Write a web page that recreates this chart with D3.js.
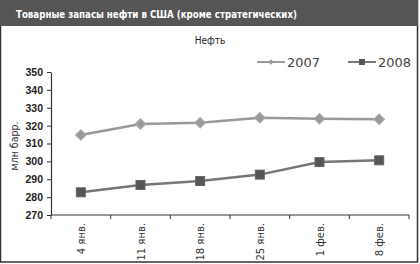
<!DOCTYPE html>
<html><head><meta charset="utf-8">
<script src="https://cdn.jsdelivr.net/npm/d3@7"></script>
<style>body{margin:0;background:#fff}svg{display:block}</style>
</head><body>
<script>
const categories = ["4 янв.","11 янв.","18 янв.","25 янв.","1 фев.","8 фев."];
const series2007 = [314.8, 320.9, 321.6, 324.4, 323.8, 323.5];
const series2008 = [282.7, 286.8, 289.0, 292.6, 299.6, 300.6];
const yTicks = [270,280,290,300,310,320,330,340,350];
const title = "Товарные запасы нефти в США (кроме стратегических)";
const subtitle = "Нефть";
const yLabel = "млн барр.";

const W=420,H=264;
const svg=d3.select("body").append("svg").attr("width",W).attr("height",H);
svg.append("rect").attr("x",0.5).attr("y",0.5).attr("width",W-3).attr("height",H-2.5).attr("fill","#fff").attr("stroke","#333").attr("stroke-width",1.5);
svg.append("rect").attr("x",0).attr("y",0).attr("width",W-2).attr("height",26).attr("fill","#555");
svg.append("text").attr("x",16).attr("y",17.5).attr("fill","#fff").attr("font-family","DejaVu Sans Condensed").attr("font-weight","bold").attr("font-size",11)
  .attr("textLength",281).attr("lengthAdjust","spacingAndGlyphs").text(title);
svg.append("text").attr("x",210).attr("y",44).attr("text-anchor","middle").attr("font-family","DejaVu Sans Condensed").attr("font-size",10).attr("fill","#222").text(subtitle);

const x=d3.scaleBand().domain(categories).range([51,409]);
const y=d3.scaleLinear().domain([270,350]).range([215,72]);

const ga=svg.append("g").attr("transform","translate(51,0)").call(d3.axisLeft(y).tickValues(yTicks).tickSize(4).tickSizeOuter(0));
ga.select(".domain").attr("stroke","#333").attr("stroke-width",1.2);
ga.selectAll(".tick line").attr("stroke","#333");
ga.selectAll("text").attr("font-family","Liberation Sans").attr("font-weight","bold").attr("font-size",10.5).attr("fill","#222").attr("dx","-1");

const gx=svg.append("g").attr("transform","translate(0,215)");
gx.append("line").attr("x1",51).attr("x2",409).attr("stroke","#333").attr("stroke-width",1.2);
const bounds=categories.map(c=>x(c)).concat([x.range()[1]]);
gx.selectAll("line.t").data(bounds).join("line").attr("class","t").attr("x1",d=>d).attr("x2",d=>d).attr("y1",0).attr("y2",4).attr("stroke","#333");
gx.selectAll("text").data(categories).join("text")
  .attr("transform",d=>`translate(${x(d)+x.bandwidth()/2+4},8) rotate(-90)`)
  .attr("text-anchor","end").attr("font-family","DejaVu Sans").attr("font-size",10).attr("fill","#333").text(d=>d);

svg.append("text").attr("transform","translate(18,146) rotate(-90)").attr("text-anchor","middle").attr("font-family","DejaVu Sans Condensed").attr("font-size",10.5).attr("fill","#333").text(yLabel);

const cx=d=>x(d)+x.bandwidth()/2;
const line=d3.line().x((d,i)=>cx(categories[i])).y(d=>y(d));
svg.append("path").datum(series2007).attr("d",line).attr("fill","none").attr("stroke","#999").attr("stroke-width",2.5);
svg.append("path").datum(series2008).attr("d",line).attr("fill","none").attr("stroke","#777").attr("stroke-width",2.5);
svg.selectAll("path.d7").data(series2007).join("path").attr("class","d7").attr("d",d3.symbol().type(d3.symbolSquare).size(56))
  .attr("transform",(d,i)=>`translate(${cx(categories[i])},${y(d)}) rotate(45)`).attr("fill","#999").attr("stroke","#aaa");
svg.selectAll("rect.s8").data(series2008).join("rect").attr("class","s8")
  .attr("x",(d,i)=>cx(categories[i])-4.5).attr("y",d=>y(d)-4.5).attr("width",9).attr("height",9).attr("fill","#555").attr("stroke","#666");

// legend
const leg=[{n:"2007",x:257,c:"#999",m:"d"},{n:"2008",x:348,c:"#777",m:"s"}];
leg.forEach(l=>{
  svg.append("line").attr("x1",l.x).attr("x2",l.x+28).attr("y1",62).attr("y2",62).attr("stroke",l.c).attr("stroke-width",2);
  if(l.m==="d") svg.append("path").attr("d",d3.symbol().type(d3.symbolSquare).size(14)()).attr("transform",`translate(${l.x+14},62) rotate(45)`).attr("fill","#999");
  else svg.append("rect").attr("x",l.x+11).attr("y",59).attr("width",6).attr("height",6).attr("fill","#555");
  svg.append("text").attr("x",l.x+30).attr("y",67).attr("font-family","DejaVu Sans").attr("font-size",13).attr("fill","#444").text(l.n);
});
</script>
</body></html>
